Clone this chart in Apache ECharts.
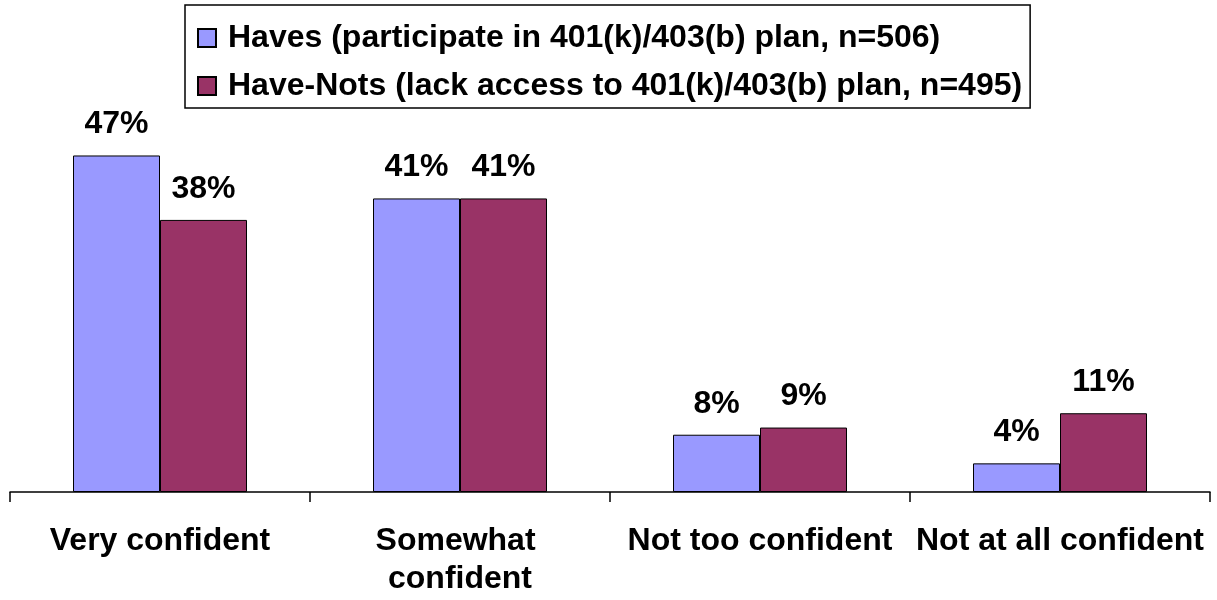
<!DOCTYPE html>
<html>
<head>
<meta charset="utf-8">
<script src="https://cdn.jsdelivr.net/npm/echarts@6/dist/echarts.min.js"></script>
<style>
  html, body { margin: 0; padding: 0; background: #ffffff; }
  #chart { width: 1217px; height: 600px; }
</style>
</head>
<body>
<div id="chart"></div>
<script>
// Confidence levels by retirement-plan access
const categories = ['Very confident', 'Somewhat confident', 'Not too confident', 'Not at all confident'];
const seriesNames = [
  'Haves (participate in 401(k)/403(b) plan, n=506)',
  'Have-Nots (lack access to 401(k)/403(b) plan, n=495)'
];
const havesValues = [47, 41, 8, 4];
const haveNotsValues = [38, 41, 9, 11];
const seriesColors = ['#9999FF', '#993366'];

const FONT = '"Liberation Sans", Arial, Helvetica, sans-serif';

const chart = echarts.init(document.getElementById('chart'), null, { renderer: 'canvas' });

function barSeries(name, values, color) {
  return {
    name: name,
    type: 'bar',
    data: values,
    barWidth: 87,
    barGap: '0%',
    itemStyle: { color: color, borderColor: '#000000', borderWidth: 1 },
    label: {
      show: true,
      position: 'top',
      distance: 15,
      formatter: '{c}%',
      color: '#000000',
      fontFamily: FONT,
      fontWeight: 'bold',
      fontSize: 32
    },
    emphasis: { disabled: true },
    animation: false
  };
}

chart.setOption({
  animation: false,
  backgroundColor: '#ffffff',
  textStyle: { fontFamily: FONT },
  legend: {
    orient: 'vertical',
    left: 185,
    top: 5,
    data: seriesNames,
    icon: 'rect',
    itemWidth: 18,
    itemHeight: 18,
    itemGap: 16,
    borderColor: '#000000',
    borderWidth: 1.5,
    padding: [17, 8, 6, 12],
    selectedMode: false,
    textStyle: {
      color: '#000000',
      fontFamily: FONT,
      fontWeight: 'bold',
      fontSize: 32,
      lineHeight: 30,
      padding: [0, 0, 0, 7]
    }
  },
  grid: {
    left: 10,
    right: 7,
    top: 62.4,
    bottom: 108,
    containLabel: false
  },
  xAxis: {
    type: 'category',
    data: categories,
    axisLine: { show: true, lineStyle: { color: '#000000', width: 1.5 } },
    axisTick: { show: true, length: 10, interval: 0, lineStyle: { color: '#000000', width: 1.5 } },
    axisLabel: {
      interval: 0,
      margin: 30,
      color: '#000000',
      fontFamily: FONT,
      fontWeight: 'bold',
      fontSize: 32,
      lineHeight: 38,
      width: 298,
      overflow: 'break'
    },
    splitLine: { show: false }
  },
  yAxis: {
    type: 'value',
    min: 0,
    max: 60,
    show: false,
    splitLine: { show: false }
  },
  series: [
    barSeries(seriesNames[0], havesValues, seriesColors[0]),
    barSeries(seriesNames[1], haveNotsValues, seriesColors[1])
  ]
});
</script>
</body>
</html>
